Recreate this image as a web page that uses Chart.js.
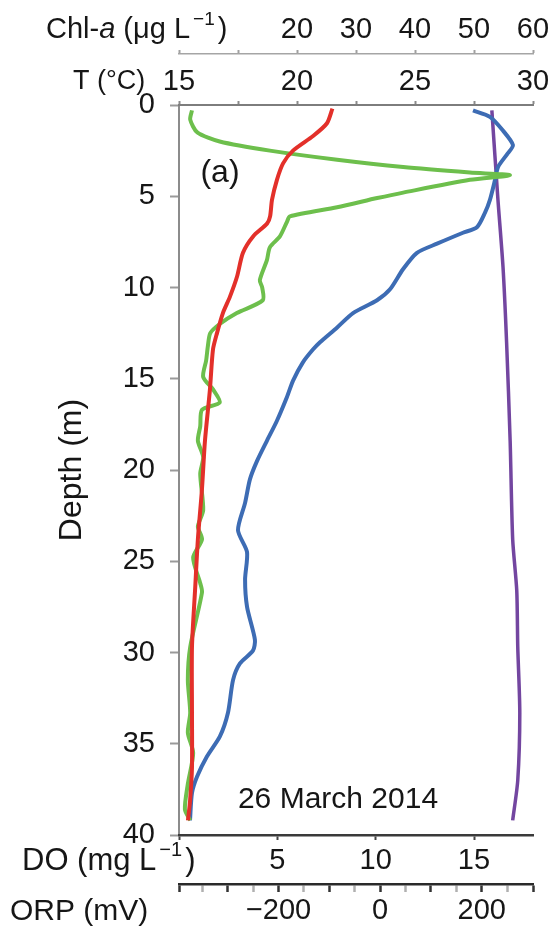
<!DOCTYPE html>
<html>
<head>
<meta charset="utf-8">
<title>Depth profile, 26 March 2014</title>
<script src="https://cdn.jsdelivr.net/npm/chart.js@4.4.0/dist/chart.umd.min.js"></script>
<style>
  html, body { margin: 0; padding: 0; background: #fff; }
  #wrap { width: 554px; height: 928px; }
</style>
</head>
<body>
<div id="wrap"><canvas id="profileChart" width="554" height="928"></canvas></div>
<script>
// Chlorophyll-a (µg/L) against depth (m)
const chlDepth = [0.3, 0.8, 1.5, 2.0, 2.5, 3.0, 3.4, 3.7, 3.85, 4.1, 4.8, 5.1, 5.6, 6.1, 6.4, 7.2, 7.8, 8.5, 9.6, 10.0, 10.7,
  11.4, 12.0, 12.5, 13.2, 14.0, 14.9, 15.6, 16.3, 16.7, 17.6, 18.4, 19.3, 20.2, 22.2, 23.1, 23.8, 24.8, 26.2, 26.7,
  29.7, 31.5, 33.3, 34.4, 35.5, 37.2, 38.6, 39.2];
const chlValues = [2.2, 1.9, 3.1, 6.9, 15.4, 26.8, 38.0, 49.3, 56.1, 49.3, 38.0, 33.6, 26.8, 18.8, 18.3, 17.1, 15.4, 14.9, 13.7, 14.1, 14.2,
  9.8, 6.9, 5.3, 4.9, 4.6, 4.1, 5.8, 6.9, 3.9, 3.6, 3.2, 4.1, 3.6, 4.1, 3.2, 3.9, 2.4, 3.6, 3.9,
  1.9, 1.5, 1.9, 1.5, 2.4, 1.5, 1.0, 1.9];

// Water temperature (°C)
const tempDepth = [0.2, 1.0, 1.7, 2.5, 3.2, 4.1, 5.2, 6.1, 6.5, 7.2, 8.1, 9.4, 10.5, 11.4, 12.5, 13.4, 15.6, 18.4, 21.1,
  23.8, 26.6, 29.7, 33.3, 36.3, 38.1, 39.2];
const tempValues = [21.5, 21.27, 20.68, 19.83, 19.41, 19.15, 18.94, 18.86, 18.73, 18.14, 17.71, 17.46, 17.16, 16.86, 16.61, 16.44,
  16.31, 16.1, 15.97, 15.8, 15.68, 15.55, 15.55, 15.55, 15.47, 15.38];

// Dissolved oxygen (mg/L)
const doDepth = [0.3, 0.65, 1.4, 2.2, 2.7, 3.4, 4.1, 5.2, 5.9, 6.7, 7.0, 7.6, 8.1, 9.0, 10.1, 10.7, 11.4, 12.2, 13.0, 13.4,
  14.1, 15.1, 16.0, 17.3, 18.4, 19.5, 20.5, 21.8, 23.3, 24.5, 26.0, 27.5, 29.3, 29.9, 30.6, 31.5, 33.3, 34.6, 35.7,
  36.8, 37.7, 39.2];
const doValues = [14.95, 15.81, 16.47, 16.98, 16.68, 16.22, 16.07, 15.81, 15.56, 15.15, 14.44, 13.12, 12.1, 11.39, 10.73, 10.07,
  8.85, 8.03, 7.17, 6.81, 6.3, 5.8, 5.49, 4.98, 4.47, 3.97, 3.61, 3.36, 3.0, 3.46, 3.36, 3.46, 3.86, 3.76, 3.1, 2.75,
  2.49, 2.08, 1.42, 0.92, 0.66, 0.56];

// Oxidation-reduction potential (mV)
const orpDepth = [0.3, 5.2, 8.9, 13.0, 18.4, 23.8, 26.6, 29.7, 33.3, 37.0, 39.2];
const orpValues = [220, 232, 242, 249, 256, 261, 269, 271, 275, 271, 261];

// Axis ticks and the ones that carry a label
const depthTicks = [0, 5, 10, 15, 20, 25, 30, 35, 40];
const tempTicks = [15, 17.5, 20, 22.5, 25, 27.5, 30];
const tempLabels = [15, 20, 25, 30];
const chlTicks = [0, 10, 20, 30, 40, 50, 60];
const chlLabels = [20, 30, 40, 50, 60];
const doTicks = [0, 5, 10, 15];
const doLabels = [5, 10, 15];
const orpTicks = [-350, -300, -250, -200, -150, -100, -50, 0, 50, 100, 150, 200, 250];
const orpLabels = [-200, 0, 200];

const FONT = "'Liberation Sans', Arial, Helvetica, sans-serif";
const TICK_SIZE = 29;
const TEXT = '#161616';

function pairs(depths, values) {
  return depths.map((d, i) => ({ x: values[i], y: d }));
}

function labelFrom(list) {
  return v => list.includes(v) ? (v < 0 ? '\u2212' + Math.abs(v) : String(v)) : '';
}

function setTicks(list, withEnds) {
  return s => {
    const vals = withEnds ? [s.min].concat(list, [s.max]) : list;
    s.ticks = vals.map(v => ({ value: v }));
  };
}

// shared options for the four value axes
function valueAxis(pos, weight, min, max, ticks, labels, box, look) {
  return {
    type: 'linear', position: pos, weight: weight, min: min, max: max,
    afterBuildTicks: setTicks(ticks, look.ends),
    afterFit: s => { s.height = box; },
    ticks: {
      autoSkip: false, maxRotation: 0, minRotation: 0,
      padding: look.pad, color: TEXT,
      font: { family: FONT, size: TICK_SIZE },
      callback: labelFrom(labels)
    },
    grid: {
      drawOnChartArea: false, tickLength: look.tl,
      tickWidth: look.tw,
      tickColor: look.tickColor
    },
    border: { color: look.line, width: look.lw }
  };
}

// axis names sit beside the tick labels, with italics and superscripts
function drawRich(ctx, parts, x, y, size) {
  ctx.textBaseline = 'middle';
  ctx.textAlign = 'left';
  ctx.fillStyle = TEXT;
  for (const p of parts) {
    const fs = p.sup ? Math.round(size * 0.64) : size;
    ctx.font = (p.italic ? 'italic ' : '') + fs + 'px ' + FONT;
    ctx.fillText(p.text, x, p.sup ? y - size * 0.35 : y);
    x += ctx.measureText(p.text).width + (p.gap || 0);
  }
}

function tickLabelY(s) {
  const o = s.options;
  const half = TICK_SIZE * 1.2 / 2;
  return s.position === 'top'
    ? s.bottom - o.grid.tickLength - o.ticks.padding - half
    : s.top + o.grid.tickLength + o.ticks.padding + half;
}

const axisNames = {
  id: 'axisNames',
  afterDraw(chart) {
    const ctx = chart.ctx;
    const sc = chart.scales;
    const area = chart.chartArea;
    ctx.save();
    drawRich(ctx, [{ text: 'Chl-' }, { text: 'a', italic: true }, { text: ' (\u03bcg L', gap: 3 },
      { text: '\u22121', sup: true, gap: 3 }, { text: ')' }], 46, tickLabelY(sc.xChl), 29);
    drawRich(ctx, [{ text: 'T (\u00b0C)' }], 73, tickLabelY(sc.xT), 27);
    drawRich(ctx, [{ text: 'DO (mg L', gap: 3 }, { text: '\u22121', sup: true, gap: 3 }, { text: ')' }],
      22, tickLabelY(sc.xDO), 31);
    drawRich(ctx, [{ text: 'ORP (mV)' }], 10, tickLabelY(sc.xORP), 30);

    ctx.font = '32px ' + FONT;
    ctx.textAlign = 'center';
    ctx.fillText('(a)', area.left + 41, area.top + 68);
    ctx.font = '30px ' + FONT;
    ctx.fillText('26 March 2014', area.left + 159, area.bottom - 35);
    ctx.restore();
  }
};

const lineStyle = { showLine: true, pointRadius: 0, borderWidth: 4, tension: 0.25, fill: false };

new Chart(document.getElementById('profileChart'), {
  type: 'scatter',
  data: {
    datasets: [
      Object.assign({ label: 'T', data: pairs(tempDepth, tempValues), xAxisID: 'xT', yAxisID: 'y',
        borderColor: '#e3302a', order: 1 }, lineStyle),
      Object.assign({ label: 'Chl-a', data: pairs(chlDepth, chlValues), xAxisID: 'xChl', yAxisID: 'y',
        borderColor: '#6dbf4c', order: 2 }, lineStyle),
      Object.assign({ label: 'DO', data: pairs(doDepth, doValues), xAxisID: 'xDO', yAxisID: 'y',
        borderColor: '#3d6cb4', order: 3 }, lineStyle),
      Object.assign({ label: 'ORP', data: pairs(orpDepth, orpValues), xAxisID: 'xORP', yAxisID: 'y',
        borderColor: '#7346a0', order: 4 }, lineStyle, { borderWidth: 3.5 })
    ]
  },
  options: {
    responsive: false,
    animation: false,
    events: [],
    layout: { padding: { top: 0, right: 21, bottom: 0, left: 0 } },
    plugins: { legend: { display: false }, tooltip: { enabled: false } },
    scales: {
      y: {
        type: 'linear', position: 'left', reverse: true, min: 0, max: 40,
        afterBuildTicks: setTicks(depthTicks, false),
        afterFit: s => { s.width = 179; },
        ticks: { autoSkip: false, padding: 15, color: TEXT, font: { family: FONT, size: TICK_SIZE } },
        grid: { drawOnChartArea: false, tickLength: 9, tickWidth: 2, tickColor: '#9a9a9a' },
        border: { color: '#8c8c8c', width: 2 },
        title: { display: true, text: 'Depth (m)', color: TEXT, font: { family: FONT, size: 32 },
          padding: { top: 53, bottom: 0 } }
      },
      xT: valueAxis('top', 1, 15, 30, tempTicks, tempLabels, 51,
        { pad: 2, tl: 4, tw: 2, tickColor: '#8a8a8a', line: '#7d7d7d', lw: 2, ends: false }),
      xChl: valueAxis('top', 2, 0, 60, chlTicks, chlLabels, 54,
        { pad: 3, tl: 4, tw: 2, tickColor: '#a0a0a0', line: '#a5a5a5', lw: 1.5, ends: false }),
      xDO: valueAxis('bottom', 1, 0, 18, doTicks, doLabels, 49,
        { pad: 4, tl: 5, tw: 2, tickColor: '#444', line: '#3a3a3a', lw: 2.5, ends: false }),
      xORP: valueAxis('bottom', 2, -396, 301, orpTicks, orpLabels, 44,
        { pad: 2, tl: 8, tw: 2.5, line: '#2a2a2a', lw: 2.5, ends: true,
          tickColor: c => (c.tick && c.tick.value % 100 !== 0 && c.index > 0 && c.index < 14) ? '#b0b0b0' : '#333' })
    }
  },
  plugins: [axisNames]
});
</script>
</body>
</html>
